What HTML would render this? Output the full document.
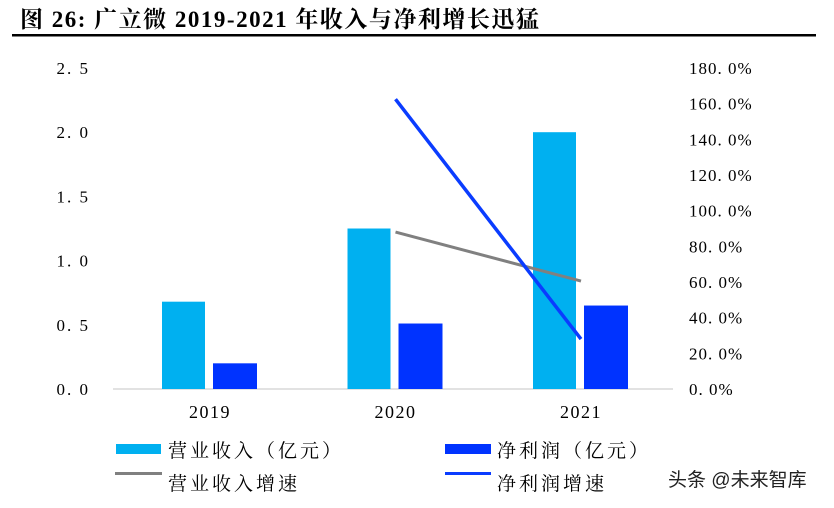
<!DOCTYPE html>
<html><head><meta charset="utf-8"><style>
body{margin:0;background:#fff;width:834px;height:503px;overflow:hidden}
svg text{font-family:"Liberation Serif","Noto Serif CJK SC",serif}
</style></head><body>
<svg width="834" height="503">
<text x="20" y="27" font-size="23" font-weight="bold" letter-spacing="1.5">图 26:  广立微 2019-2021 年收入与净利增长迅猛</text>
<rect x="12" y="34" width="804" height="2.5" fill="#000"/>
<g id="g"></g>
<g>
<rect x="116" y="444" width="45" height="10" fill="#00b0f0"/>
<text x="168" y="457" font-size="19" letter-spacing="3">营业收入（亿元）</text>
<rect x="445" y="444" width="46" height="10" fill="#0033ff"/>
<text x="497" y="457" font-size="19" letter-spacing="3">净利润（亿元）</text>
<rect x="115" y="472" width="47" height="3" fill="#808080"/>
<text x="168" y="490" font-size="19" letter-spacing="3">营业收入增速</text>
<rect x="445" y="472" width="46" height="3" fill="#0a3cff"/>
<text x="497" y="490" font-size="19" letter-spacing="3">净利润增速</text>
</g>
<text x="668" y="486" font-size="19" fill="#222" style="font-family:'Liberation Sans','Noto Sans CJK SC',sans-serif">头条 @未来智库</text>
</svg>
<script>
const categories=["2019","2020","2021"];
const revenue=[0.68,1.25,2.0];
const profit=[0.20,0.51,0.65];
const revGrowth=[null,88,60.5];
const profitGrowth=[null,162.5,28];
const leftTicks=["0.0","0.5","1.0","1.5","2.0","2.5"];
const rightTicks=["0.0%","20.0%","40.0%","60.0%","80.0%","100.0%","120.0%","140.0%","160.0%","180.0%"];
const NS="http://www.w3.org/2000/svg",g=document.getElementById('g');
const y0=389,y1=68;
const yL=v=>y0-v/2.5*(y0-y1), yR=v=>y0-v/180*(y0-y1);
const xC=i=>210+i*185.5;
function mk(t,a){const e=document.createElementNS(NS,t);for(const k in a)e.setAttribute(k,a[k]);g.appendChild(e);return e;}
leftTicks.forEach((t,i)=>{const e=mk('text',{x:90,y:yL(+t)+6,'font-size':17,'text-anchor':'end','letter-spacing':2});e.textContent=t.replace('.','. ');

});
rightTicks.forEach((t,i)=>{const e=mk('text',{x:689,y:yR(parseFloat(t))+6,'font-size':17,'letter-spacing':1});e.textContent=t.replace('.','. ');

});
const ax=mk('line',{x1:113,x2:673,y1:y0,y2:y0,stroke:'#d9d9d9','stroke-width':1.5});


categories.forEach((c,i)=>{
const b1=mk('rect',{x:xC(i)-48,y:yL(revenue[i]),width:43,height:y0-yL(revenue[i]),fill:'#00b0f0'});


const b2=mk('rect',{x:xC(i)+3,y:yL(profit[i]),width:44,height:y0-yL(profit[i]),fill:'#0033ff'});


const t=mk('text',{x:xC(i),y:418,'font-size':18,'text-anchor':'middle','letter-spacing':1.5});t.textContent=c;


});
function line(arr,col,w,name){const p=[];arr.forEach((v,i)=>{if(v!=null)p.push(xC(i)+','+yR(v));});
const e=mk('polyline',{points:p.join(' '),fill:'none',stroke:col,'stroke-width':w});

}
line(revGrowth,'#808080',3,'line-revenue-growth');
line(profitGrowth,'#0a3cff',3.5,'line-profit-growth');
</script>
</body></html>
